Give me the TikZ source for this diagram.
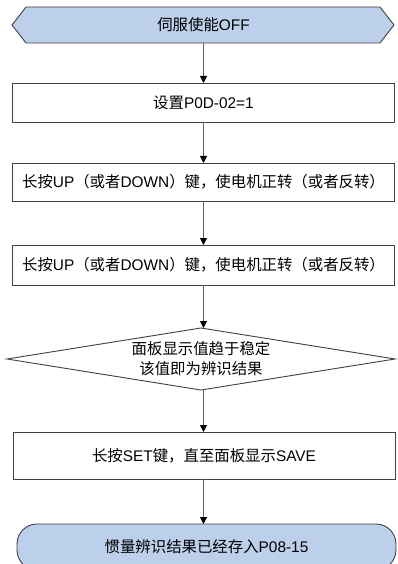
\documentclass[tikz,border=0pt]{standalone}
\usepackage{fontspec}
\setmainfont{Liberation Sans}
\newfontfamily\cjk{Noto Sans CJK SC}
\usetikzlibrary{arrows.meta,shapes.geometric}
\definecolor{termblue}{RGB}{188,207,235}
\definecolor{edgegray}{RGB}{64,64,64}
\definecolor{linegray}{RGB}{100,100,100}
\begin{document}
\begin{tikzpicture}[x=1pt,y=-1pt,
  every node/.style={font=\fontsize{15.4}{20}\selectfont},
  stepbox/.style={draw=edgegray, line width=0.9pt, minimum width=382pt, inner sep=0pt, outer sep=0pt},
  flow/.style={draw=linegray, line width=1pt, -{Triangle[width=7pt,length=7pt,color=black]}}
]
\useasboundingbox (0,0) rectangle (397,564);
\fill[white] (0,0) rectangle (397,564);

% start hexagon
\filldraw[fill=termblue, draw=edgegray, line width=0.9pt]
  (12,25) -- (26,7) -- (380,7) -- (394,25) -- (380,43) -- (26,43) -- cycle;
\node[minimum width=382pt, minimum height=36pt, inner sep=0pt, outer sep=0pt] (start) at (203.5,25) {{\cjk 伺服使能}OFF};

\node[stepbox, minimum height=39pt] (b1) at (203.5,102.5) {{\cjk 设置}P0D-02=1};
\node[stepbox, minimum height=38pt] (b2) at (203.5,182) {{\cjk 长按}UP{\cjk （或者}DOWN{\cjk ）键，使电机正转（或者反转）}};
\node[stepbox, minimum height=40pt] (b3) at (203.5,265) {{\cjk 长按}UP{\cjk （或者}DOWN{\cjk ）键，使电机正转（或者反转）}};

\node[diamond, draw=edgegray, line width=0.9pt, minimum width=388pt, minimum height=62pt, inner sep=0pt, outer sep=0pt] (dia) at (201,359) {};
\node[align=center, inner sep=0pt] (diatext) at (dia.center) {\cjk 面板显示值趋于稳定\\\cjk 该值即为辨识结果};

\node[stepbox, minimum height=47pt] (b5) at (204,455.5) {{\cjk 长按}SET{\cjk 键，直至面板显示}SAVE};

\node[draw=edgegray, fill=termblue, line width=0.9pt, rounded corners=20pt, minimum width=379pt, minimum height=46pt, inner sep=0pt, outer sep=0pt] (term) at (206.5,547) {{\cjk 惯量辨识结果已经存入}P08-15};

\draw[flow] (start.south) -- (start.south |- b1.north);
\draw[flow] (b1.south) -- (b1.south |- b2.north);
\draw[flow] (b2.south) -- (b2.south |- b3.north);
\draw[flow] (b3.south) -- (b3.south |- dia.north);
\draw[flow] (b3.south |- dia.south) -- (b3.south |- b5.north);
\draw[flow] (b3.south |- b5.south) -- (b3.south |- term.north);
\end{tikzpicture}
\end{document}
